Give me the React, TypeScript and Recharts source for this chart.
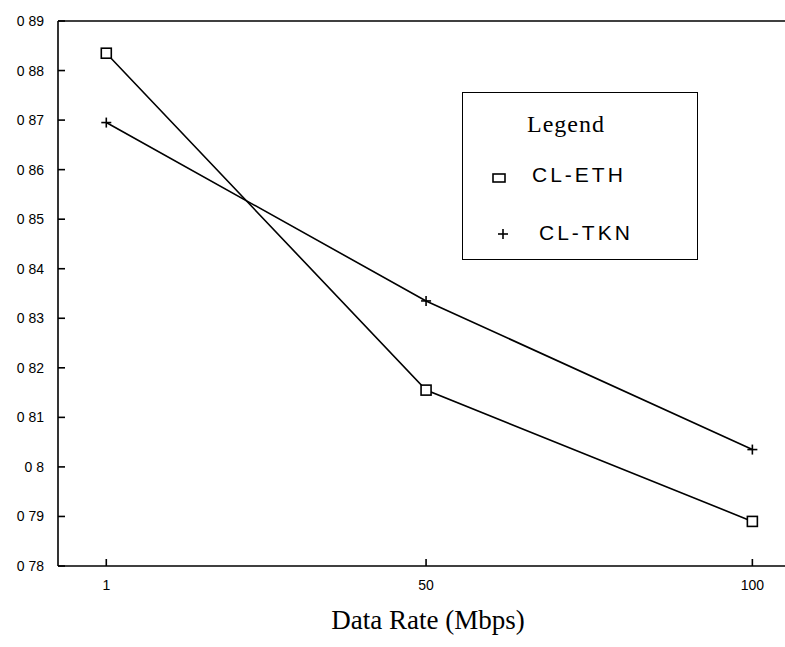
import { LineChart, Line, XAxis, YAxis, ReferenceLine } from 'recharts';

const rates = [1, 50, 100];
const ethValues = [0.8835, 0.8155, 0.789];
const tknValues = [0.8695, 0.8335, 0.8035];
const yTicks = [0.78, 0.79, 0.8, 0.81, 0.82, 0.83, 0.84, 0.85, 0.86, 0.87, 0.88, 0.89];
const yTickLabels = ['0 78', '0 79', '0 8', '0 81', '0 82', '0 83', '0 84', '0 85', '0 86', '0 87', '0 88', '0 89'];
const xTicks = [1, 50, 100];
const seriesNames = ['CL-ETH', 'CL-TKN'];

const data = rates.map((r, i) => ({ rate: r, eth: ethValues[i], tkn: tknValues[i] }));

const SANS = '"Liberation Sans", Arial, sans-serif';
const SERIF = '"Liberation Serif", "Times New Roman", serif';

function SquareDot(props: any) {
  const { cx, cy } = props;
  return <rect x={cx - 5} y={cy - 5} width={10} height={10} fill="#fff" stroke="#000" strokeWidth={1.6} />;
}

function PlusDot(props: any) {
  const { cx, cy } = props;
  return (
    <g stroke="#000" strokeWidth={1.6}>
      <line x1={cx - 5} y1={cy} x2={cx + 5} y2={cy} />
      <line x1={cx} y1={cy - 5} x2={cx} y2={cy + 5} />
    </g>
  );
}

function YTick(props: any) {
  const { x, y, payload } = props;
  const idx = yTicks.indexOf(payload.value);
  return (
    <g>
      <line x1={x} y1={y} x2={x + 7} y2={y} stroke="#000" strokeWidth={1.6} />
      <text x={x - 14} y={y + 5} textAnchor="end" fontFamily={SANS} fontSize={14} fill="#000">
        {yTickLabels[idx]}
      </text>
    </g>
  );
}

function XTick(props: any) {
  const { x, y, payload } = props;
  return (
    <g>
      <line x1={x} y1={y} x2={x} y2={y - 7} stroke="#000" strokeWidth={1.6} />
      <text x={x} y={y + 24} textAnchor="middle" fontFamily={SANS} fontSize={14} fill="#000">
        {payload.value}
      </text>
    </g>
  );
}

function LegendBox() {
  return (
    <div
      style={{
        position: 'absolute',
        left: 462,
        top: 92,
        width: 234,
        height: 166,
        border: '1.6px solid #000',
        background: '#fff',
        color: '#000',
      }}
    >
      <div style={{ position: 'absolute', left: 64, top: 18, fontFamily: SERIF, fontSize: 24, letterSpacing: 1 }}>
        Legend
      </div>
      <svg style={{ position: 'absolute', left: 29, top: 78 }} width={14} height={14}>
        <rect x={1} y={3} width={12} height={8} fill="none" stroke="#000" strokeWidth={1.6} />
      </svg>
      <div style={{ position: 'absolute', left: 69, top: 70, fontFamily: SANS, fontSize: 21, letterSpacing: 3 }}>
        {seriesNames[0]}
      </div>
      <svg style={{ position: 'absolute', left: 33, top: 134 }} width={14} height={14}>
        <line x1={2} y1={7} x2={12} y2={7} stroke="#000" strokeWidth={1.6} />
        <line x1={7} y1={2} x2={7} y2={12} stroke="#000" strokeWidth={1.6} />
      </svg>
      <div style={{ position: 'absolute', left: 76, top: 128, fontFamily: SANS, fontSize: 21, letterSpacing: 3 }}>
        {seriesNames[1]}
      </div>
    </div>
  );
}

export default function App() {
  return (
    <div style={{ position: 'absolute', left: 0, top: 0, width: 785, height: 647, background: '#fff' }}>
      <LineChart width={785} height={647} data={data} margin={{ top: 21, right: 0, bottom: 51, left: 0 }}>
        <XAxis
          dataKey="rate"
          type="number"
          domain={[-6.4, 105]}
          ticks={xTicks}
          tick={<XTick />}
          tickLine={false}
          tickSize={0}
          tickMargin={0}
          axisLine={{ stroke: '#000', strokeWidth: 1.6 }}
          height={30}
          allowDataOverflow
        />
        <YAxis
          type="number"
          domain={[0.78, 0.89]}
          ticks={yTicks}
          tick={<YTick />}
          tickLine={false}
          tickSize={0}
          tickMargin={0}
          width={58}
          axisLine={{ stroke: '#000', strokeWidth: 1.6 }}
          allowDataOverflow
        />
        <ReferenceLine y={0.89} stroke="#000" strokeWidth={1.6} />
        <Line
          dataKey="eth"
          name={seriesNames[0]}
          stroke="#000"
          strokeWidth={1.6}
          dot={<SquareDot />}
          isAnimationActive={false}
        />
        <Line
          dataKey="tkn"
          name={seriesNames[1]}
          stroke="#000"
          strokeWidth={1.6}
          dot={<PlusDot />}
          isAnimationActive={false}
        />
      </LineChart>
      <LegendBox />
      <div
        style={{
          position: 'absolute',
          left: 278,
          top: 605,
          width: 300,
          textAlign: 'center',
          fontFamily: SERIF,
          fontSize: 27,
          color: '#000',
          whiteSpace: 'nowrap',
        }}
      >
        Data Rate (Mbps)
      </div>
    </div>
  );
}
